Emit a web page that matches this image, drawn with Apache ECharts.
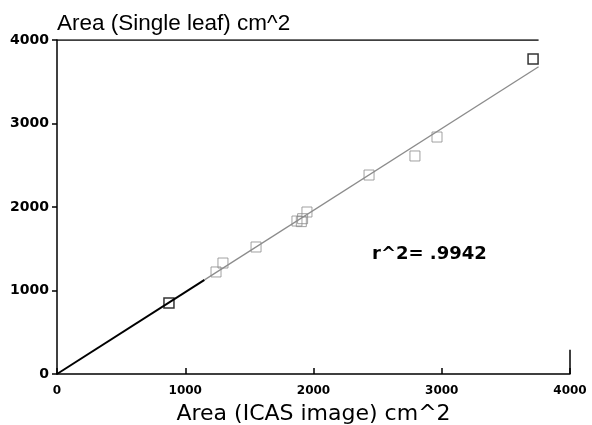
<!DOCTYPE html>
<html>
<head>
<meta charset="utf-8">
<script src="https://cdn.jsdelivr.net/npm/echarts@6/dist/echarts.min.js"></script>
<style>
  html, body { margin: 0; padding: 0; background: #fff; }
  #chart { width: 592px; height: 425px; }
</style>
</head>
<body>
<div id="chart"></div>
<script>
// leaf areas: ICAS image vs single leaf (cm^2)
const blackPoints = [[873, 850], [3712, 3772]];
const grayPoints = [
  [1240, 1222], [1294, 1329], [1552, 1521], [1871, 1832],
  [1905, 1825], [1915, 1860], [1949, 1940], [2433, 2383],
  [2791, 2611], [2963, 2838]
];
// fitted line (black part, then grey part)
const fitBlack = [[0, 0], [1150, 1127]];
const fitGray = [[1150, 1127], [3755, 3680]];
// bits of frame
const frameTop = [[0, 4000], [3755, 4000]];
const frameRight = [[4000, 0], [4000, 290]];
const xTicks = [0, 1000, 2000, 3000, 4000];
const yTicks = [0, 1000, 2000, 3000, 4000];
const rSquared = '.9942';

const chart = echarts.init(document.getElementById('chart'));

const frameStyle = { color: '#000', width: 1.5 };

chart.setOption({
  animation: false,
  title: {
    text: 'Area (Single leaf) cm^2',
    left: 52, top: 7,
    textStyle: { fontFamily: 'Liberation Sans', fontSize: 22.5, fontWeight: 'normal', color: '#000' }
  },
  grid: { left: 57, right: 22, top: 40, bottom: 51, containLabel: false, outerBoundsMode: 'none' },
  xAxis: {
    type: 'value', min: 0, max: 4000, interval: 1000,
    name: 'Area (ICAS image) cm^2',
    nameLocation: 'middle', nameGap: 29,
    nameTextStyle: { fontFamily: 'DejaVu Sans', fontSize: 22, color: '#000' },
    axisLine: { lineStyle: { color: '#000', width: 1.5 } },
    axisTick: { inside: true, length: 6, lineStyle: { color: '#000', width: 1.5 } },
    axisLabel: {
      margin: 11, color: '#000', fontFamily: 'DejaVu Sans', fontWeight: 'bold', fontSize: 12,
      formatter: v => xTicks.includes(v) ? String(v) : ''
    },
    splitLine: { show: false }
  },
  yAxis: {
    type: 'value', min: 0, max: 4000, interval: 1000,
    axisLine: { show: true, lineStyle: { color: '#000', width: 1.5 } },
    axisTick: { show: true, length: 5, lineStyle: { color: '#000', width: 1.5 } },
    axisLabel: {
      margin: 8, color: '#000', fontFamily: 'DejaVu Sans', fontWeight: 'bold', fontSize: 14,
      formatter: v => yTicks.includes(v) ? String(v) : ''
    },
    splitLine: { show: false }
  },
  graphic: [{
    type: 'text', left: 372, top: 245,
    style: {
      text: 'r^2= ' + rSquared,
      font: 'bold 18px "DejaVu Sans"', fill: '#000'
    }
  }],
  series: [
    { type: 'line', data: frameTop, symbol: 'none', lineStyle: frameStyle, silent: true },
    { type: 'line', data: frameRight, symbol: 'none', lineStyle: frameStyle, silent: true },
    { type: 'line', data: fitBlack, symbol: 'none', lineStyle: { color: '#000', width: 2 } },
    { type: 'line', data: fitGray, symbol: 'none', lineStyle: { color: '#8c8c8c', width: 1.3 } },
    {
      type: 'scatter', data: grayPoints, symbol: 'rect', symbolSize: 10,
      itemStyle: { color: 'rgba(0,0,0,0)', borderColor: '#8a8a8a', borderWidth: 1 }
    },
    {
      type: 'scatter', data: blackPoints, symbol: 'rect', symbolSize: 10,
      itemStyle: { color: 'rgba(0,0,0,0)', borderColor: '#000', borderWidth: 1.5 }
    }
  ]
});
</script>
</body>
</html>
